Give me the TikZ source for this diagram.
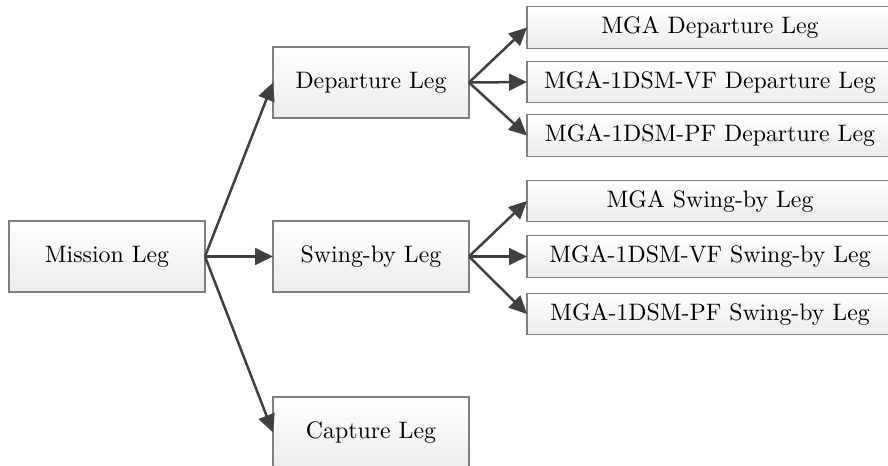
\documentclass[tikz,border=0pt]{standalone}
\usetikzlibrary{arrows.meta}
\definecolor{boxgray}{HTML}{808080}
\definecolor{shadegray}{HTML}{ECECEC}
\definecolor{linegray}{HTML}{404040}
\begin{document}
\begin{tikzpicture}[x=0.42pt,y=-0.42pt,
  box/.style={draw=boxgray, line width=0.45pt, top color=white, bottom color=shadegray,
    inner sep=0pt, outer sep=0pt, font=\normalsize},
  mainbox/.style={box, minimum width=196*0.42pt, minimum height=71*0.42pt},
  subbox/.style={box, minimum width=366*0.42pt, minimum height=41.5*0.42pt},
  link/.style={draw=linegray, line width=1.05pt, -{Triangle[length=7.5pt,width=7pt]}}]
\useasboundingbox (0,0) rectangle (888,466);
\clip (0,0) rectangle (888,466);
\node[mainbox] (mission) at (107,256.5) {Mission Leg};
\node[mainbox] (dep) at (371,82.5) {Departure Leg};
\node[mainbox] (swing) at (371,256.5) {Swing-by Leg};
\node[mainbox] (cap) at (371,432.5) {Capture Leg};
\node[subbox] (d1) at (710,27.5) {MGA Departure Leg};
\node[subbox] (d2) at (710,82) {MGA-1DSM-VF Departure Leg};
\node[subbox] (d3) at (710,135.5) {MGA-1DSM-PF Departure Leg};
\node[subbox] (s1) at (710,201) {MGA Swing-by Leg};
\node[subbox] (s2) at (710,256.5) {MGA-1DSM-VF Swing-by Leg};
\node[subbox] (s3) at (710,314) {MGA-1DSM-PF Swing-by Leg};
\draw[link] (mission.east) -- (dep.west);
\draw[link] (mission.east) -- (swing.west);
\draw[link] (mission.east) -- (cap.west);
\draw[link] (dep.east) -- (d1.west);
\draw[link] (dep.east) -- (d2.west);
\draw[link] (dep.east) -- (d3.west);
\draw[link] (swing.east) -- (s1.west);
\draw[link] (swing.east) -- (s2.west);
\draw[link] (swing.east) -- (s3.west);
\end{tikzpicture}
\end{document}
